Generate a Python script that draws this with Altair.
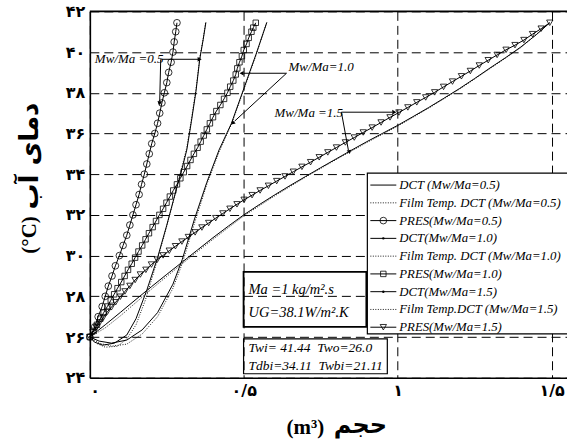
import altair as alt
import pandas as pd

# ---------------- data ----------------
pres05_x = [0.000, 0.016, 0.027, 0.040, 0.050, 0.060, 0.072, 0.083, 0.096, 0.108, 0.120, 0.130, 0.140,
            0.150, 0.160, 0.168, 0.177, 0.185, 0.193, 0.201, 0.211, 0.220, 0.227, 0.234, 0.242, 0.250,
            0.256, 0.264, 0.270, 0.274, 0.279, 0.283]
pres05_y = [26.0, 26.5, 27.0, 27.5, 28.0, 28.5, 29.0, 29.5, 30.0, 30.5, 31.0, 31.5, 32.0, 32.5, 33.0,
            33.5, 34.0, 34.5, 35.0, 35.5, 36.0, 36.5, 37.0, 37.5, 38.0, 38.5, 39.0, 39.5, 40.0, 40.5,
            41.0, 41.44]

pres10_x = [0.000, 0.012, 0.023, 0.034, 0.045, 0.057, 0.068, 0.079, 0.090, 0.102, 0.113, 0.124, 0.136,
            0.147, 0.158, 0.170, 0.181, 0.192, 0.204, 0.215, 0.226, 0.238, 0.249, 0.260, 0.271, 0.283,
            0.294, 0.305, 0.316, 0.327, 0.338, 0.350, 0.360, 0.370, 0.380, 0.390, 0.400, 0.411, 0.424,
            0.436, 0.447, 0.456, 0.466, 0.474, 0.479, 0.486, 0.494, 0.500, 0.509, 0.516, 0.525, 0.531,
            0.539]
pres10_y = [26.0, 26.3, 26.6, 26.9, 27.2, 27.5, 27.8, 28.1, 28.4, 28.7, 29.0, 29.3, 29.6, 29.9, 30.2,
            30.5, 30.8, 31.1, 31.4, 31.7, 32.0, 32.3, 32.6, 32.9, 33.2, 33.5, 33.8, 34.1, 34.4, 34.7,
            35.0, 35.3, 35.6, 35.9, 36.2, 36.5, 36.8, 37.1, 37.4, 37.7, 38.0, 38.3, 38.6, 38.9, 39.2,
            39.5, 39.8, 40.1, 40.4, 40.7, 41.0, 41.2, 41.44]

pres15_x = [0.000, 0.010, 0.021, 0.032, 0.044, 0.057, 0.070, 0.084, 0.099, 0.114, 0.130, 0.147, 0.164,
            0.182, 0.200, 0.219, 0.238, 0.258, 0.278, 0.299, 0.320, 0.342, 0.364, 0.386, 0.409, 0.432,
            0.455, 0.478, 0.501, 0.527, 0.553, 0.580, 0.607, 0.634, 0.661, 0.689, 0.717, 0.745, 0.773,
            0.801, 0.830, 0.859, 0.888, 0.917, 0.946, 0.975, 1.004, 1.033, 1.062, 1.091, 1.120, 1.149,
            1.178, 1.207, 1.236, 1.265, 1.294, 1.323, 1.352, 1.381, 1.410, 1.438, 1.466, 1.494]
pres15_y = [26.00, 26.23, 26.47, 26.71, 26.96, 27.24, 27.46, 27.71, 27.98, 28.24, 28.51, 28.80, 29.07,
            29.30, 29.56, 29.80, 30.01, 30.24, 30.46, 30.69, 30.91, 31.14, 31.38, 31.60, 31.84, 32.07,
            32.30, 32.52, 32.74, 32.97, 33.20, 33.43, 33.66, 33.89, 34.12, 34.36, 34.59, 34.83, 35.07,
            35.31, 35.56, 35.80, 36.05, 36.29, 36.54, 36.79, 37.03, 37.28, 37.53, 37.77, 38.02, 38.29,
            38.55, 38.81, 39.07, 39.34, 39.60, 39.86, 40.11, 40.34, 40.59, 40.88, 41.15, 41.44]

dct05_x = [0.000, 0.015, 0.042, 0.080, 0.120, 0.150, 0.185, 0.220, 0.250, 0.280, 0.300, 0.315, 0.330,
           0.345, 0.357, 0.368, 0.377]
dct05_y = [26.0, 25.75, 25.6, 25.7, 26.1, 26.9, 28.3, 29.9, 31.5, 33.2, 34.3, 35.2, 36.6, 38.1, 39.65,
           40.6, 41.46]

film05_x = [0.000, 0.020, 0.050, 0.090, 0.120, 0.150, 0.180, 0.210, 0.240, 0.270, 0.300, 0.315, 0.330,
            0.345, 0.357, 0.368, 0.376]
film05_y = [26.0, 25.7, 25.5, 25.55, 25.9, 26.6, 27.8, 29.3, 30.9, 32.6, 34.4, 35.3, 36.7, 38.2, 39.7,
            40.65, 41.44]

dct10_x = [0.000, 0.030, 0.070, 0.120, 0.170, 0.220, 0.270, 0.300, 0.340, 0.380, 0.420, 0.460, 0.500,
           0.540, 0.575]
dct10_y = [26.0, 25.8, 25.7, 25.85, 26.35, 27.2, 28.6, 29.8, 31.8, 33.6, 35.2, 36.5, 38.2, 39.9, 41.46]

film10_x = [0.000, 0.030, 0.070, 0.120, 0.170, 0.220, 0.270, 0.300, 0.340, 0.380, 0.420, 0.460, 0.500,
            0.540, 0.574]
film10_y = [26.0, 25.7, 25.55, 25.65, 26.15, 27.0, 28.4, 29.6, 31.6, 33.5, 35.1, 36.45, 38.15, 39.85,
            41.44]

dct15_x = [0.00, 0.05, 0.10, 0.15, 0.20, 0.25, 0.30, 0.35, 0.40, 0.45, 0.50, 0.55, 0.60, 0.65, 0.70,
           0.75, 0.80, 0.85, 0.90, 0.95, 1.00, 1.05, 1.10, 1.15, 1.20, 1.25, 1.30, 1.35, 1.40, 1.45, 1.494]
dct15_y = [26.0, 26.6, 27.22, 27.85, 28.47, 29.08, 29.68, 30.28, 30.88, 31.45, 32.0, 32.5, 32.98, 33.44,
           33.88, 34.32, 34.75, 35.18, 35.6, 36.0, 36.4, 36.83, 37.27, 37.73, 38.2, 38.7, 39.22, 39.72,
           40.25, 40.85, 41.44]

film15_x = [0.00, 0.05, 0.10, 0.15, 0.20, 0.25, 0.30, 0.35, 0.40, 0.50, 0.60, 0.70, 0.80, 0.90, 1.00,
            1.10, 1.20, 1.30, 1.40, 1.494]
film15_y = [26.0, 26.45, 27.05, 27.7, 28.35, 28.98, 29.6, 30.2, 30.8, 31.95, 32.93, 33.85, 34.72, 35.56,
            36.36, 37.24, 38.17, 39.19, 40.22, 41.44]

x_ticks = [0, 0.5, 1, 1.5]
x_tick_labels = ["۰", "۰/۵", "۱", "۱/۵"]
y_ticks = [24, 26, 28, 30, 32, 34, 36, 38, 40, 42]
y_tick_labels = ["۲۴", "۲۶", "۲۸", "۳۰", "۳۲", "۳۴", "۳۶", "۳۸", "۴۰", "۴۲"]

legend_labels = ["DCT (Mw/Ma=0.5)", "Film Temp. DCT (Mw/Ma=0.5)", "PRES(Mw/Ma=0.5)",
                 "DCT(Mw/Ma=1.0)", "Film Temp. DCT (Mw/Ma=1.0)", "\u00a0PRES(Mw/Ma=1.0)",
                 "DCT(Mw/Ma=1.5)", "Film Temp.DCT (Mw/Ma=1.5)", "PRES(Mw/Ma=1.5)"]

x_title_unit, x_title_word = "(m³)", "حجم"
y_title_unit, y_title_word = "(°C)", "دمای آب"
box1_lines = ["Ma =1 kg/m².s", "UG=38.1W/m².K"]
box2_lines = ["Twi= 41.44\u00a0\u00a0Two=26.0", "Tdbi=34.11\u00a0\u00a0Twbi=21.11"]
ann_labels = ["Mw/Ma =0.5", "Mw/Ma=1.0", "Mw/Ma =1.5"]

# ---------------- layout ----------------
OX, OY = 90, 11          # plot origin in page pixels
W, H = 478, 367
SERIF = "Liberation Serif, DejaVu Serif, serif"
ARAB = "DejaVu Sans, Noto Sans, sans-serif"


def label_expr(vals, labels):
    expr = "''"
    for v, l in zip(reversed(vals), reversed(labels)):
        expr = f"datum.value == {v} ? '{l}' : ({expr})"
    return expr


xs = alt.Scale(domain=[0, 1.55], nice=False, zero=False)
ys = alt.Scale(domain=[24, 42], nice=False, zero=False)

x_axis = alt.Axis(values=x_ticks, labelExpr=label_expr(x_ticks, x_tick_labels),
                  grid=True, gridColor="black", gridDash=[9, 5], gridWidth=1,
                  gridOpacity=1, ticks=False, domainColor="black", domainWidth=1.6,
                  labelFont=ARAB, labelFontSize=16, labelFontWeight="bold",
                  labelColor="black", labelPadding=5, labelBaseline="top")
y_axis = alt.Axis(values=y_ticks, labelExpr=label_expr(y_ticks, y_tick_labels),
                  grid=True, gridColor="black", gridDash=[9, 5], gridWidth=1,
                  gridOpacity=1, ticks=False, domainColor="black", domainWidth=1.6,
                  labelFont=ARAB, labelFontSize=16, labelFontWeight="bold",
                  labelColor="black", labelPadding=5, labelBaseline="middle")

X_ENC = alt.X("x:Q", scale=xs, title=None, axis=x_axis)
Y_ENC = alt.Y("y:Q", scale=ys, title=None, axis=y_axis)


def frame(xv, yv):
    return pd.DataFrame({"x": xv, "y": yv, "o": list(range(len(xv)))})


def line(xv, yv, dash=None, width=1.0, color="black"):
    kw = dict(color=color, strokeWidth=width)
    if dash:
        kw["strokeDash"] = dash
    return alt.Chart(frame(xv, yv)).mark_line(**kw).encode(x=X_ENC, y=Y_ENC, order="o:Q")


def points(xv, yv, shape, size):
    return alt.Chart(frame(xv, yv)).mark_point(
        shape=shape, size=size, filled=False, color="black", strokeWidth=0.8, opacity=1).encode(
        x=X_ENC, y=Y_ENC)


dummy = pd.DataFrame({"d": [0]})


def seg(x1, y1, x2, y2, width=1.0, dash=None):
    kw = dict(color="black", strokeWidth=width)
    if dash:
        kw["strokeDash"] = dash
    return alt.Chart(dummy).mark_rule(**kw).encode(
        x=alt.value(x1 - OX), y=alt.value(y1 - OY), x2=alt.value(x2 - OX), y2=alt.value(y2 - OY))


def head(x, y, angle, size=22):
    return alt.Chart(dummy).mark_point(shape="triangle-up", filled=True, color="black",
                                       size=size, angle=angle, opacity=1).encode(
        x=alt.value(x - OX), y=alt.value(y - OY))


def sym(x, y, shape, size):
    return alt.Chart(dummy).mark_point(shape=shape, filled=False, color="black",
                                       size=size, strokeWidth=0.8, opacity=1).encode(
        x=alt.value(x - OX), y=alt.value(y - OY))


def dot(x, y):
    return alt.Chart(dummy).mark_point(shape="circle", filled=True, color="black",
                                       size=6, opacity=1).encode(
        x=alt.value(x - OX), y=alt.value(y - OY))


def txt(s, x, y, size=13, align="left", style="italic", weight="normal", font=SERIF, angle=0):
    return alt.Chart(dummy).mark_text(text=s, align=align, baseline="middle", fontSize=size,
                                      fontStyle=style, fontWeight=weight, font=font,
                                      color="black", angle=angle).encode(
        x=alt.value(x - OX), y=alt.value(y - OY))


def box(x1, y1, x2, y2, fill=None, width=1.0):
    kw = dict(stroke="black", strokeWidth=width)
    if fill:
        kw["fill"] = fill
    else:
        kw["fillOpacity"] = 0
    return alt.Chart(dummy).mark_rect(**kw).encode(
        x=alt.value(x1 - OX), y=alt.value(y1 - OY), x2=alt.value(x2 - OX), y2=alt.value(y2 - OY))


layers = []

# curves (they carry the shared axes and dashed grid)
layers += [
    line(film05_x, film05_y, dash=[1, 1.5], width=0.9),
    line(film10_x, film10_y, dash=[1, 1.5], width=0.9),
    line(film15_x, film15_y, dash=[1, 1.5], width=0.9),
    line(dct05_x, dct05_y),
    line(dct10_x, dct10_y),
    line(dct15_x, dct15_y),
    line(pres05_x, pres05_y),
    line(pres10_x, pres10_y),
    line(pres15_x, pres15_y),
    points(pres05_x, pres05_y, "circle", 45),
    points(pres10_x, pres10_y, "square", 30),
    points(pres15_x, pres15_y, "triangle-down", 40),
]

# top border
layers.append(seg(OX, OY, OX + W, OY, width=1.6))

# axis titles (unit part in serif, Persian word larger)
layers += [
    txt(x_title_unit, 306, 428, size=21, align="center", style="normal", weight="bold"),
    txt(x_title_word, 361, 426, size=24, align="center", style="normal", weight="bold", font=ARAB),
    txt(y_title_unit, 30, 235, size=21, align="center", style="normal", weight="bold", angle=270),
    txt(y_title_word, 30, 156, size=26, align="center", style="normal", weight="bold", font=ARAB,
        angle=270),
]

# annotations with arrows
layers += [
    txt(ann_labels[0], 95, 59, size=13),
    seg(162, 59, 199, 59), head(200, 59, 90),
    seg(161, 59, 160, 101), head(160, 103, 180),
    txt(ann_labels[1], 289, 67, size=13),
    seg(287, 73, 244, 73), head(242, 73, 270),
    seg(287, 73, 235, 121), head(233, 123, 227),
    txt(ann_labels[2], 275, 113, size=13),
    seg(342, 112, 393, 112), head(395, 112, 90),
    seg(342, 112, 349, 150), head(350, 152, 169),
]

# parameter boxes
layers += [
    box(244, 272, 367, 327, width=1.8),
    txt(box1_lines[0], 249, 290, size=14.5),
    txt(box1_lines[1], 249, 313, size=14.5),
    box(244, 339, 388, 374, width=1.2),
    txt(box2_lines[0], 249, 348, size=13.5),
    txt(box2_lines[1], 249, 366, size=13.5),
]

# manual legend
LX1, LX2, LT = 371, 397, 400
layers.append(box(368, 173, 572, 334, fill="white", width=1.2))
for i, lab in enumerate(legend_labels):
    yy = 185 + i * 17.8
    kind = i % 3
    if kind == 1:
        layers.append(seg(LX1, yy, LX2, yy, width=0.9, dash=[1, 1.5]))
    else:
        layers.append(seg(LX1, yy, LX2, yy))
    if i == 2:
        layers.append(sym(384, yy, "circle", 45))
    elif i == 5:
        layers.append(sym(384, yy, "square", 30))
    elif i == 8:
        layers.append(sym(384, yy, "triangle-down", 40))
    elif i in (3, 6):
        layers.append(dot(384, yy))
    layers.append(txt(lab, LT, yy, size=12.8))

chart = alt.layer(*layers).properties(
    width=W, height=H,
    padding={"left": OX, "top": OY, "right": 0, "bottom": 445 - OY - H},
    autosize=alt.AutoSizeParams(type="none"),
    background="white",
).configure_view(stroke=None)

chart.save("out.html", embed_options={"renderer": "svg", "actions": False})
